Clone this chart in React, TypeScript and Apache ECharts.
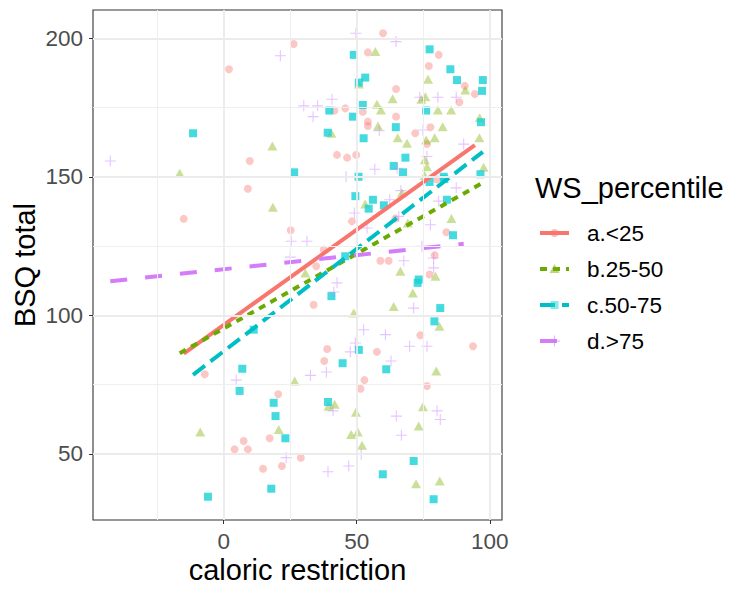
import React, { useEffect, useRef } from "react";
import * as echarts from "echarts";

const groups = ["a.<25", "b.25-50", "c.50-75", "d.>75"];
const xTicks = [0, 50, 100];
const yTicks = [50, 100, 150, 200];
const xMinor = [-25, 25, 75];
const yMinor = [75, 125, 175];

const pointsA = [
  [26.3, 197.9], [2, 188.8], [9.8, 155.7], [59.9, 201.8], [54.2, 194.9], [80.8, 194],
  [77.1, 190], [90.6, 182.8], [94.4, 179.9], [64.8, 181.7], [88.6, 176.9], [41.6, 173.9],
  [45.7, 174.7], [52.3, 173.5], [64.8, 171.7], [54.2, 169.9], [54.2, 168.3], [77.7, 167.9],
  [72, 165.7], [76.4, 161.8], [42.6, 157.9], [46.4, 156.9], [49.8, 157.9], [9.1, 145.7],
  [-15, 134.8], [25.2, 130.7], [48.2, 133.9], [64.5, 134.9], [80.2, 149], [83.7, 130],
  [37.6, 123.7], [34.8, 117.7], [58.9, 119.7], [62, 119.7], [79.3, 121.7], [77.4, 114.7],
  [33.8, 103.8], [73.9, 92.8], [38.9, 87.8], [93.7, 88.8], [57.6, 86.8], [37.8, 83.5],
  [52.9, 76.6], [51.4, 73.5], [76.4, 74.5], [-7.1, 78.7], [20.5, 71.5], [17.3, 55.6],
  [7.5, 54.6], [4.1, 51.6], [9.1, 51.6], [29, 48.6], [14.8, 44.6], [21.9, 45.6],
];

const pointsB = [
  [18.3, 161.1], [-16.5, 151.3], [57, 195.2], [76.8, 185.2], [90.8, 181.3], [50.8, 183.5],
  [75.8, 178.9], [74.3, 178], [63.5, 178.2], [57.6, 176.2], [59.1, 174.1], [80.5, 174.1],
  [85.5, 174.1], [96.2, 171.3], [58, 168.3], [82.3, 168.1], [40.5, 165.7], [65.4, 164.1],
  [68.9, 162.1], [76.1, 163.3], [79.3, 164.1], [96.1, 164.1], [75.6, 156.1], [76.4, 153.6],
  [97.7, 153.4], [75.5, 150.5], [18.5, 139], [53.2, 140.2], [67, 144.2], [69.2, 133.3],
  [85.6, 134.9], [30.7, 115.3], [66.4, 115.9], [79.6, 114.1], [71.1, 108], [63.9, 103.2],
  [48.9, 100.8], [81.1, 96], [79.9, 79.9], [26.7, 76.3], [20.7, 58.8], [-8.8, 57.9],
  [41.7, 67.9], [39.4, 67.2], [49.7, 65], [74.9, 67], [73.3, 60], [47.9, 57],
  [50.4, 57.9], [52, 53.1], [72.3, 39.2], [81.2, 40.2],
];

const pointsC = [
  [-11.5, 165.7], [26.5, 151.6], [48.9, 194], [77.4, 196], [85.2, 188.8], [87.7, 184.9],
  [97.4, 184.9], [97.1, 181], [53.2, 185.8], [50.8, 184], [39.7, 173.9], [52.3, 175.9],
  [48.6, 171.7], [76.1, 173.9], [96.7, 169.7], [64.7, 167.9], [39.1, 165.9], [52.6, 163.9],
  [68.3, 156.9], [63.9, 153.9], [67.4, 151.6], [50.7, 150], [82.7, 150], [96.5, 150.9],
  [49.5, 143], [56.1, 141.7], [54.5, 138.5], [60.2, 139.7], [77.4, 148.1], [82.9, 149.2],
  [83.9, 141.7], [86.2, 128.9], [45.7, 121.3], [73.3, 112.9], [72.9, 111.7], [40.5, 106.9],
  [81.4, 102.6], [79.2, 97.8], [11.3, 94.8], [50.8, 87.5], [44.7, 82.7], [61.1, 80.5],
  [39.2, 68.7], [7, 80.7], [6, 72.7], [18.8, 68.4], [19.5, 63.6], [23.2, 55.6],
  [17.9, 37.4], [-5.9, 34.5], [71.4, 47.4], [59.8, 42.6], [78.9, 33.6],
];

const pointsD = [
  [21.3, 193.7], [-42.6, 155.7], [49.7, 201.8], [64.8, 198.8], [73.7, 178.7], [80.5, 178.7],
  [87.4, 178.7], [30.1, 175.6], [35.3, 175.6], [40.7, 178], [33.6, 171.7], [58.5, 166.6],
  [74.9, 166.9], [90.2, 161.8], [65.2, 153.1], [56.8, 152.7], [46, 150], [76.4, 157.3],
  [25.4, 126.7], [25, 121], [62.4, 141.7], [66.6, 145], [49.1, 136.9], [53.9, 131.5],
  [65.8, 135.7], [87.4, 146], [80.8, 141.2], [77.7, 132.7], [31.3, 126.7], [67.7, 119.7],
  [74.5, 124.9], [78.9, 120.7], [78.9, 117.1], [42.6, 111.7], [41.4, 108.4], [71.4, 102.6],
  [52.6, 94.8], [60.8, 93], [49.5, 90], [69.9, 88.8], [76.4, 88.8], [47.6, 86.8],
  [38.6, 79.5], [32.6, 78.3], [62.9, 83.5], [4.7, 76.6], [23.5, 48.6], [41.1, 65.5],
  [64.9, 63.6], [80.2, 65.5], [81.4, 62.4], [66.8, 56.7], [51.7, 49.8], [47, 45.6],
  [39.2, 43.5],
];

const trendA = [[-15, 86.2], [94.4, 161.4]];
const trendB = [[-16.5, 86.3], [97.7, 148]];
const trendC = [[-11.5, 78.5], [97.4, 159]];
const trendD = [[-42.6, 112.3], [90.2, 125.8]];

const FONT = "'Liberation Sans', Arial, Helvetica, sans-serif";
const lineColors = ["#F8766D", "#6BAA00", "#00BFC4", "#D47CFA"];
const pointColors = [
  "rgba(248,118,109,0.5)",
  "rgba(124,174,0,0.5)",
  "#17D1D6",
  "rgba(199,124,255,0.55)",
];
const dashes: any[] = ["solid", [7, 6], [15, 7], [17, 18]];
const PLUS = "path://M5,0L5,10M0,5L10,5";

export default function App() {
  const ref = useRef<HTMLDivElement>(null);
  useEffect(() => {
    if (!ref.current) return;
    const chart = echarts.init(ref.current, null, { renderer: "svg" });

    const gridLines = [
      ...xTicks.map((v) => ({ xAxis: v, lineStyle: { color: "#EBEBEB", width: 1.8, type: "solid" } })),
      ...xMinor.map((v) => ({ xAxis: v, lineStyle: { color: "#EFEFEF", width: 1, type: "solid" } })),
      ...yTicks.map((v) => ({ yAxis: v, lineStyle: { color: "#EBEBEB", width: 1.8, type: "solid" } })),
      ...yMinor.map((v) => ({ yAxis: v, lineStyle: { color: "#EFEFEF", width: 1, type: "solid" } })),
    ];

    const pointSets = [pointsA, pointsB, pointsC, pointsD];
    const trends = [trendA, trendB, trendC, trendD];
    const symbols: any[] = ["circle", "triangle", "rect", PLUS];
    const sizes: any[] = [8, [10, 9], 8, 11];

    const scatterSeries = pointSets.map((pts, i) => ({
      type: "scatter",
      name: groups[i],
      data: pts,
      symbol: symbols[i],
      symbolSize: sizes[i],
      z: 2,
      itemStyle:
        i === 3
          ? { color: "rgba(0,0,0,0)", borderColor: pointColors[3], borderWidth: 1.1 }
          : { color: pointColors[i] },
    }));

    const lineSeries = trends.map((t, i) => ({
      type: "line",
      name: groups[i] + " fit",
      data: t,
      showSymbol: false,
      symbol: "none",
      z: 3,
      lineStyle: { color: lineColors[i], width: 4, type: dashes[i], cap: "butt" },
    }));

    const legendEls: any[] = [
      {
        type: "text",
        x: 535,
        y: 188,
        style: { text: "WS_percentile", fontSize: 29, fontFamily: FONT, fill: "#000", verticalAlign: "middle" },
      },
    ];
    groups.forEach((g, i) => {
      const y = 233 + 36 * i;
      const cx = 554.5;
      legendEls.push({
        type: "line",
        shape: { x1: 540, y1: y, x2: 569, y2: y },
        style: { stroke: lineColors[i], lineWidth: 4, lineDash: i === 0 ? null : dashes[i] },
        z: 10,
      });
      if (i === 0) {
        legendEls.push({ type: "circle", shape: { cx, cy: y, r: 4 }, style: { fill: pointColors[0] }, z: 11 });
      } else if (i === 1) {
        legendEls.push({
          type: "polygon",
          shape: { points: [[cx, y - 5], [cx - 5, y + 4], [cx + 5, y + 4]] },
          style: { fill: pointColors[1] },
          z: 11,
        });
      } else if (i === 2) {
        legendEls.push({ type: "rect", shape: { x: cx - 4, y: y - 4, width: 8, height: 8 }, style: { fill: pointColors[2], opacity: 0.5 }, z: 11 });
      } else {
        legendEls.push({ type: "line", shape: { x1: cx - 5.5, y1: y, x2: cx + 5.5, y2: y }, style: { stroke: pointColors[3], lineWidth: 1.1 }, z: 11 });
        legendEls.push({ type: "line", shape: { x1: cx, y1: y - 5.5, x2: cx, y2: y + 5.5 }, style: { stroke: pointColors[3], lineWidth: 1.1 }, z: 11 });
      }
      legendEls.push({
        type: "text",
        x: 587,
        y,
        style: { text: g, fontSize: 22.5, fontFamily: FONT, fill: "#000", verticalAlign: "middle" },
        z: 10,
      });
    });

    legendEls.push({
      type: "text",
      x: 297.5,
      y: 570,
      style: { text: "caloric restriction", fontSize: 29, fontFamily: FONT, fill: "#000", align: "center", verticalAlign: "middle" },
    });
    legendEls.push({
      type: "text",
      x: 25,
      y: 265,
      rotation: Math.PI / 2,
      style: { text: "BSQ total", fontSize: 29, fontFamily: FONT, fill: "#000", align: "center", verticalAlign: "middle" },
    });

    chart.setOption({
      animation: false,
      backgroundColor: "#ffffff",
      textStyle: { fontFamily: FONT },
      grid: {
        left: 93,
        top: 10,
        width: 409,
        height: 510,
        show: true,
        borderColor: "#333333",
        borderWidth: 1.1,
        backgroundColor: "#ffffff",
        containLabel: false,
        outerBoundsMode: "none",
      },
      xAxis: {
        type: "value",
        min: -49.1,
        max: 104.6,
        axisLine: { show: false, onZero: false },
        splitLine: { show: false },
        axisTick: { show: true, customValues: xTicks, length: 4, lineStyle: { color: "#333333", width: 1 } },
        axisLabel: { customValues: xTicks, fontSize: 22.5, color: "#4D4D4D", margin: 10, fontFamily: FONT },
      },
      yAxis: {
        type: "value",
        min: 26.1,
        max: 210.2,
        axisLine: { show: false, onZero: false },
        splitLine: { show: false },
        axisTick: { show: true, customValues: yTicks, length: 4, lineStyle: { color: "#333333", width: 1 } },
        axisLabel: { customValues: yTicks, fontSize: 22.5, color: "#4D4D4D", margin: 10, fontFamily: FONT },
      },
      graphic: legendEls,
      series: [
        {
          type: "scatter",
          name: "grid",
          data: [[0, 100]],
          symbolSize: 0,
          silent: true,
          z: 1,
          markLine: {
            silent: true,
            symbol: ["none", "none"],
            label: { show: false },
            animation: false,
            data: gridLines,
          },
        },
        ...scatterSeries,
        ...lineSeries,
      ],
    });
    return () => chart.dispose();
  }, []);
  return <div ref={ref} style={{ position: "fixed", left: 0, top: 0, width: 730, height: 590 }} />;
}
